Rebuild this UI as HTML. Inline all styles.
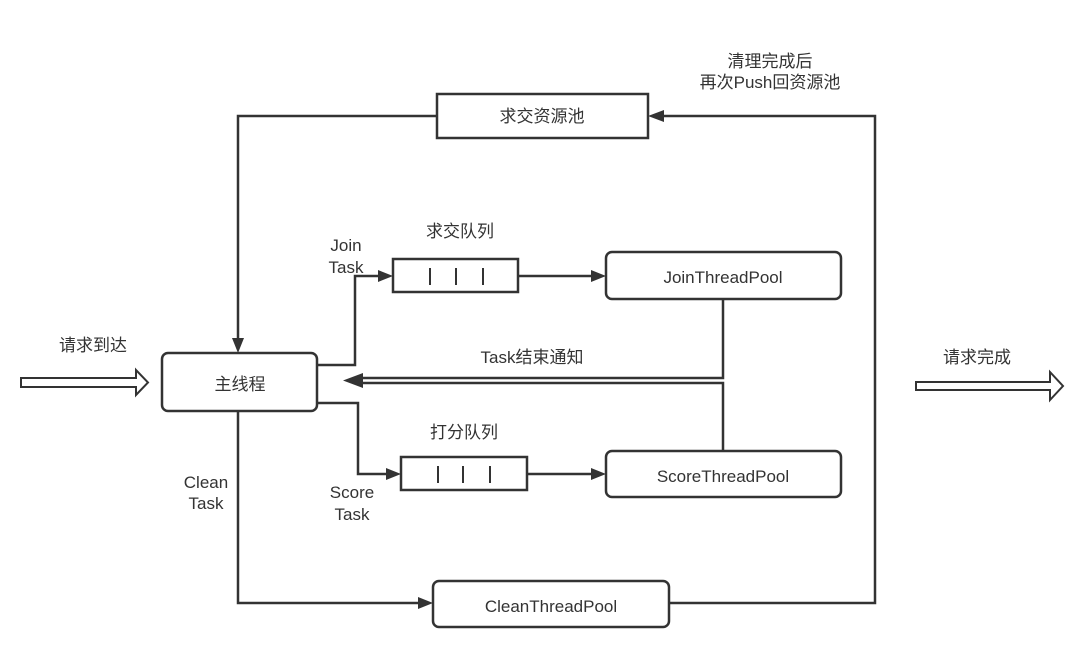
<!DOCTYPE html>
<html><head><meta charset="utf-8"><style>
html,body{margin:0;padding:0;background:#fff;}
svg text{font-family:"Liberation Sans","Noto Sans CJK SC",sans-serif;fill:#333;font-size:17px;}
</style></head><body>
<svg width="1080" height="644" viewBox="0 0 1080 644" xmlns="http://www.w3.org/2000/svg">
<g stroke="#333" stroke-width="2.5" fill="none">
<rect x="437" y="94" width="211" height="44" fill="#fff"/>
<rect x="162" y="353" width="155" height="58" rx="6" fill="#fff"/>
<rect x="606" y="252" width="235" height="47" rx="6" fill="#fff"/>
<rect x="606" y="451" width="235" height="46" rx="6" fill="#fff"/>
<rect x="433" y="581" width="236" height="46" rx="6" fill="#fff"/>
<rect x="393" y="259" width="125" height="33"/>
<rect x="401" y="457" width="126" height="33"/>
<path d="M430 268V285M456 268V285M483 268V285M438 466V483M463 466V483M490 466V483" stroke-width="2"/>
<path d="M437 116H238V340"/>
<path d="M669 603H875V116H660"/>
<path d="M238 411V603H420"/>
<path d="M317 365H355V276H380"/>
<path d="M317 403H358V474H388"/>
<path d="M518 276H592"/>
<path d="M527 474H592"/>
<path d="M723 299V378H360"/>
<path d="M723 451V383H360"/>
<path d="M21 378H136V370L148 382.5L136 395V387H21Z" stroke-width="2"/>
<path d="M916 382H1050V372L1063 386L1050 400V390H916Z" stroke-width="2"/>
</g>
<g fill="#333">
<polygon points="238,353 232,338 244,338"/>
<polygon points="648,116 664,110 664,122"/>
<polygon points="433,603 418,597 418,609"/>
<polygon points="393,276 378,270 378,282"/>
<polygon points="401,474 386,468 386,480"/>
<polygon points="606,276 591,270 591,282"/>
<polygon points="606,474 591,468 591,480"/>
<polygon points="343,380.5 363,373 363,388"/>
</g>
<text x="542" y="122" text-anchor="middle">求交资源池</text>
<text x="240" y="390" text-anchor="middle">主线程</text>
<text x="723" y="283" text-anchor="middle">JoinThreadPool</text>
<text x="723" y="482" text-anchor="middle">ScoreThreadPool</text>
<text x="551" y="612" text-anchor="middle">CleanThreadPool</text>
<text x="460" y="237" text-anchor="middle">求交队列</text>
<text x="464" y="438" text-anchor="middle">打分队列</text>
<text x="532" y="363" text-anchor="middle">Task结束通知</text>
<text x="93" y="351" text-anchor="middle">请求到达</text>
<text x="977" y="363" text-anchor="middle">请求完成</text>
<text x="346" y="251" text-anchor="middle">Join</text>
<text x="346" y="273" text-anchor="middle">Task</text>
<text x="352" y="498" text-anchor="middle">Score</text>
<text x="352" y="520" text-anchor="middle">Task</text>
<text x="206" y="488" text-anchor="middle">Clean</text>
<text x="206" y="509" text-anchor="middle">Task</text>
<text x="770" y="67" text-anchor="middle">清理完成后</text>
<text x="770" y="88" text-anchor="middle">再次Push回资源池</text>
</svg>
</body></html>
